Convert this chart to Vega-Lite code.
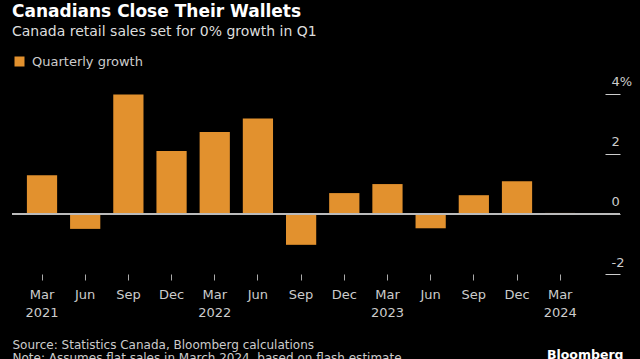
{
  "$schema": "https://vega.github.io/schema/vega-lite/v6.json",
  "width": 608,
  "height": 194,
  "autosize": {"type": "none"},
  "padding": {"left": 12, "top": 80, "right": 20, "bottom": 85},
  "background": "#000000",
  "config": {
    "view": {"stroke": null},
    "font": "DejaVu Sans"
  },
  "title": {
    "text": "Canadians Close Their Wallets",
    "subtitle": "Canada retail sales set for 0% growth in Q1",
    "anchor": "start",
    "frame": "group",
    "fontSize": 17,
    "fontWeight": "bold",
    "color": "#ffffff",
    "subtitleFontSize": 14,
    "subtitleColor": "#dddddd",
    "subtitlePadding": 4,
    "offset": 15
  },
  "data": {
    "values": [
      {"quarter": "Mar 2021", "growth": 1.28, "series": "Quarterly growth"},
      {"quarter": "Jun 2021", "growth": -0.5, "series": "Quarterly growth"},
      {"quarter": "Sep 2021", "growth": 3.97, "series": "Quarterly growth"},
      {"quarter": "Dec 2021", "growth": 2.09, "series": "Quarterly growth"},
      {"quarter": "Mar 2022", "growth": 2.72, "series": "Quarterly growth"},
      {"quarter": "Jun 2022", "growth": 3.17, "series": "Quarterly growth"},
      {"quarter": "Sep 2022", "growth": -1.03, "series": "Quarterly growth"},
      {"quarter": "Dec 2022", "growth": 0.69, "series": "Quarterly growth"},
      {"quarter": "Mar 2023", "growth": 0.99, "series": "Quarterly growth"},
      {"quarter": "Jun 2023", "growth": -0.48, "series": "Quarterly growth"},
      {"quarter": "Sep 2023", "growth": 0.62, "series": "Quarterly growth"},
      {"quarter": "Dec 2023", "growth": 1.08, "series": "Quarterly growth"},
      {"quarter": "Mar 2024", "growth": 0.03, "series": "Quarterly growth"}
    ]
  },
  "layer": [
    {
      "mark": {"type": "bar"},
      "encoding": {
        "x": {
          "field": "quarter",
          "type": "ordinal",
          "sort": null,
          "scale": {"paddingInner": 0.3, "paddingOuter": 0.69, "align": 0.25},
          "axis": {
            "title": ["Source: Statistics Canada, Bloomberg calculations", "Note: Assumes flat sales in March 2024, based on flash estimate"],
            "titleFontSize": 12,
            "titleFontWeight": "normal",
            "titleColor": "#cccccc",
            "titleAnchor": "start",
            "titleAlign": "left",
            "titleBaseline": "top",
            "titleX": 0,
            "titleY": 65,
            "titleLineHeight": 13,
            "labelAngle": 0,
            "labelColor": "#cccccc",
            "labelFontSize": 13,
            "labelLineHeight": 18,
            "labelPadding": 8,
            "labelExpr": "split(datum.value, ' ')[0] == 'Mar' ? split(datum.value, ' ') : split(datum.value, ' ')[0]",
            "ticks": true,
            "tickSize": 6,
            "tickColor": "#aaaaaa",
            "domain": false
          }
        },
        "y": {
          "field": "growth",
          "type": "quantitative",
          "scale": {"domain": [-2, 4.45], "nice": false},
          "axis": {
            "orient": "right",
            "offset": -15,
            "values": [-2, 0, 2, 4],
            "tickSize": 15,
            "tickColor": "#cccccc",
            "domain": false,
            "grid": false,
            "labelAlign": "left",
            "labelPadding": -9,
            "labelBaseline": "bottom",
            "labelOffset": -5,
            "labelColor": "#cccccc",
            "labelFontSize": 13,
            "labelExpr": "datum.value == 4 ? '4%' : '' + datum.value",
            "title": "Bloomberg",
            "titleAngle": 0,
            "titleAlign": "right",
            "titleBaseline": "top",
            "titleX": 18,
            "titleY": 268,
            "titleFontSize": 12.5,
            "titleFontWeight": "bold",
            "titleColor": "#ffffff"
          }
        },
        "color": {
          "field": "series",
          "type": "nominal",
          "scale": {"range": ["#E2912E"]},
          "legend": {
            "title": null,
            "orient": "none",
            "legendX": 1,
            "legendY": -25,
            "padding": 0,
            "symbolType": "square",
            "symbolSize": 100,
            "symbolStrokeWidth": 0,
            "labelColor": "#cccccc",
            "labelFontSize": 13,
            "labelOffset": 6
          }
        }
      }
    },
    {
      "mark": {"type": "rule", "color": "#bbbbbb", "strokeWidth": 1.5},
      "encoding": {"y": {"datum": 0}}
    }
  ]
}
